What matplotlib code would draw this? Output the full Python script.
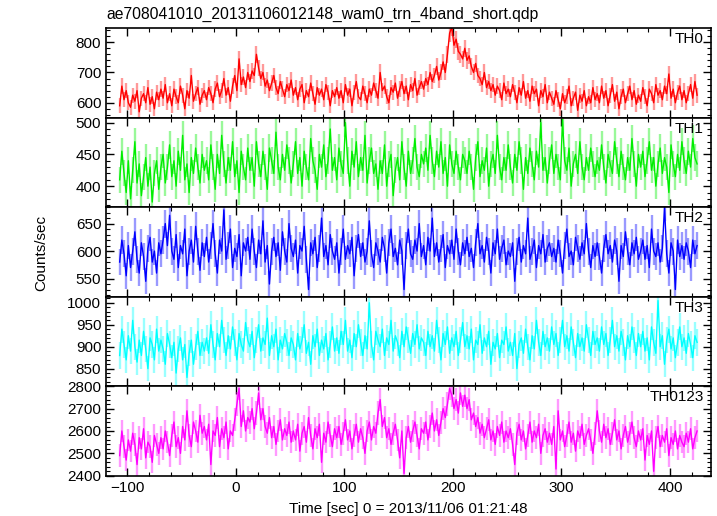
import numpy as np
import matplotlib
matplotlib.use("Agg")
import matplotlib.pyplot as plt
from matplotlib.ticker import MultipleLocator

plt.rcParams['font.family'] = ['Liberation Sans', 'DejaVu Sans']

title = "ae708041010_20131106012148_wam0_trn_4band_short.qdp"
xlabel = "Time [sec] 0 = 2013/11/06 01:21:48"
ylabel = "Counts/sec"
band_names = ["TH0", "TH1", "TH2", "TH3", "TH0123"]

t_start = -107.0   # centre of first bin [s]
bin_width = 2.0    # [s]

th0 = [
    590, 655, 610, 640, 600, 585, 625, 605, 640, 570, 615, 630, 600, 650, 595, 620, 580, 635, 610, 645,
    615, 660, 600, 630, 590, 645, 620, 600, 655, 625, 580, 640, 615, 690, 605, 630, 650, 595, 625, 640,
    610, 650, 630, 600, 645, 665, 620, 640, 680, 625, 650, 605, 655, 690, 640, 745, 660, 685, 650, 700,
    670, 705, 690, 760, 715, 680, 700, 655, 675, 640, 665, 690, 650, 630, 670, 645, 620, 660, 640, 675,
    625, 650, 610, 645, 660, 600, 640, 620, 665, 630, 595, 650, 625, 645, 610, 660, 635, 590, 640, 620,
    650, 615, 640, 600, 660, 625, 645, 590, 635, 670, 620, 610, 655, 630, 600, 645, 625, 665, 640, 615,
    700, 640, 655, 620, 600, 650, 635, 665, 615, 645, 670, 630, 655, 610, 660, 640, 680, 625, 650, 670,
    645, 680, 660, 700, 670, 690, 720, 675, 700, 735, 700, 760, 830, 850, 790, 810, 770, 760, 745, 780,
    740, 755, 720, 700, 730, 690, 680, 660, 700, 650, 670, 640, 660, 625, 655, 640, 610, 665, 630, 645,
    620, 660, 635, 600, 650, 625, 670, 615, 640, 605, 655, 630, 645, 590, 640, 620, 660, 600, 635, 615,
    595, 640, 610, 580, 630, 600, 620, 655, 590, 615, 635, 575, 625, 605, 640, 590, 620, 600, 650, 610,
    630, 600, 655, 615, 640, 590, 625, 660, 605, 635, 580, 620, 645, 600, 630, 655, 610, 640, 595, 625,
    605, 650, 620, 590, 645, 630, 600, 660, 625, 640, 610, 655, 630, 695, 615, 645, 600, 635, 655, 610,
    640, 600, 630, 660, 615, 670, 625,
]

th1 = [
    410, 455, 420, 390, 440, 380, 425, 470, 405, 435, 385, 415, 445, 400, 430, 375, 420, 440, 395, 430,
    450, 405, 430, 465, 415, 440, 400, 455, 425, 480, 410, 435, 390, 445, 420, 460, 430, 405, 450, 425,
    440, 410, 465, 430, 395, 450, 420, 480, 435, 405, 445, 425, 470, 415, 440, 390, 455, 430, 410, 460,
    425, 445, 400, 470, 435, 415, 455, 430, 395, 460, 440, 420, 485, 430, 410, 450, 425, 465, 440, 405,
    435, 470, 420, 445, 400, 455, 430, 410, 475, 440, 425, 395, 450, 430, 465, 415, 440, 490, 425, 445,
    410, 460, 435, 420, 500, 440, 400, 455, 430, 470, 415, 445, 425, 480, 405, 440, 460, 420, 435, 395,
    440, 420, 465, 400, 435, 450, 385, 425, 445, 410, 470, 430, 400, 455, 420, 440, 475, 430, 415, 450,
    435, 460, 425, 480, 440, 415, 455, 430, 470, 420, 445, 400, 465, 435, 420, 455, 430, 410, 450, 440,
    420, 455, 430, 395, 445, 470, 415, 440, 425, 460, 400, 435, 450, 420, 480, 430, 410, 445, 425, 465,
    430, 405, 450, 425, 470, 440, 395, 445, 420, 460, 435, 410, 455, 430, 500, 425, 445, 405, 440, 465,
    420, 450, 430, 410, 505, 440, 425, 460, 400, 435, 450, 420, 470, 430, 410, 445, 425, 460, 435, 415,
    440, 425, 465, 430, 405, 450, 435, 420, 470, 440, 415, 455, 430, 410, 445, 425, 475, 435, 400, 450,
    430, 455, 415, 440, 470, 425, 445, 400, 435, 460, 420, 445, 430, 390, 465, 435, 415, 450, 425, 470,
    440, 420, 455, 430, 475, 445, 435,
]

th2 = [
    580, 620, 595, 555, 610, 570, 600, 635, 585, 560, 615, 590, 545, 605, 625, 580, 600, 560, 615, 595,
    620, 650, 610, 665, 600, 585, 630, 570, 610, 595, 640, 555, 600, 620, 580, 645, 600, 565, 615, 590,
    625, 580, 610, 650, 595, 560, 620, 600, 675, 585, 610, 640, 570, 605, 590, 630, 555, 615, 600, 625,
    585, 640, 600, 570, 620, 595, 655, 580, 610, 540, 600, 625, 590, 615, 565, 635, 600, 580, 650, 605,
    590, 620, 560, 610, 600, 645, 585, 530, 615, 595, 625, 570, 605, 660, 590, 610, 575, 630, 600, 585,
    615, 560, 600, 640, 585, 610, 595, 625, 555, 605, 630, 590, 615, 580, 600, 655, 595, 570, 615, 600,
    580, 625, 605, 560, 615, 640, 590, 605, 575, 620, 600, 530, 610, 640, 595, 585, 620, 600, 650, 590,
    610, 575, 625, 600, 660, 590, 615, 580, 605, 630, 570, 610, 595, 620, 585, 640, 600, 575, 615, 595,
    625, 590, 605, 570, 615, 650, 595, 610, 580, 625, 600, 560, 615, 595, 640, 585, 605, 620, 575, 600,
    590, 615, 545, 600, 625, 580, 610, 595, 660, 585, 600, 620, 570, 610, 595, 630, 580, 605, 615, 590,
    605, 580, 620, 595, 560, 610, 640, 590, 600, 575, 625, 605, 585, 615, 595, 650, 600, 570, 610, 590,
    615, 590, 560, 605, 630, 595, 610, 580, 620, 600, 545, 610, 590, 635, 600, 575, 615, 595, 625, 585,
    600, 620, 585, 610, 570, 640, 600, 590, 615, 580, 605, 680, 595, 560, 615, 600, 530, 620, 590, 610,
    585, 615, 600, 570, 620, 595, 610,
]

th3 = [
    880, 940, 905, 870, 925, 890, 960, 900, 865, 915, 880, 935, 895, 850, 920, 905, 870, 940, 890, 915,
    895, 860, 930, 905, 875, 910, 840, 895, 920, 870, 905, 830, 885, 915, 860, 900, 935, 880, 910, 890,
    920, 885, 950, 905, 870, 930, 900, 960, 915, 880, 925, 895, 945, 910, 870, 930, 905, 890, 955, 915,
    900, 935, 875, 915, 950, 890, 920, 905, 965, 880, 925, 900, 940, 870, 915, 895, 930, 910, 880, 920,
    905, 870, 930, 895, 915, 950, 885, 910, 860, 925, 900, 940, 880, 915, 895, 930, 870, 905, 945, 890,
    920, 885, 935, 905, 960, 890, 915, 875, 930, 900, 950, 910, 880, 925, 895, 1000, 905, 870, 935, 915,
    900, 940, 880, 920, 905, 960, 890, 925, 910, 875, 935, 900, 945, 915, 885, 930, 905, 950, 895, 920,
    910, 880, 935, 900, 925, 890, 960, 915, 870, 930, 905, 945, 885, 920, 900, 935, 880, 915, 955, 900,
    925, 895, 940, 870, 915, 905, 950, 885, 920, 900, 935, 860, 910, 895, 930, 875, 915, 905, 945, 890,
    910, 880, 930, 850, 905, 920, 885, 940, 900, 870, 925, 895, 960, 910, 880, 935, 900, 920, 890, 945,
    905, 930, 880, 915, 960, 900, 925, 890, 945, 910, 875, 930, 900, 920, 890, 950, 915, 880, 935, 905,
    920, 890, 945, 905, 930, 880, 915, 960, 900, 925, 890, 935, 910, 870, 925, 900, 945, 915, 880, 930,
    900, 935, 890, 920, 870, 945, 910, 885, 1005, 900, 925, 860, 915, 940, 895, 920, 875, 910, 945, 900,
    920, 885, 930, 905, 875, 925, 910,
]

th0123 = [
    2490, 2600, 2530, 2470, 2560, 2510, 2590, 2540, 2450, 2570, 2520, 2610, 2480, 2550, 2530, 2460, 2580, 2540, 2500, 2570,
    2520, 2600, 2550, 2490, 2580, 2640, 2530, 2570, 2500, 2620, 2560, 2690, 2580, 2530, 2640, 2600, 2550, 2670, 2590, 2620,
    2560, 2630, 2450, 2600, 2580, 2660, 2530, 2610, 2570, 2640, 2520, 2600, 2580, 2650, 2720, 2790, 2620, 2690, 2600, 2660,
    2640, 2700, 2610, 2680, 2770, 2650, 2700, 2620, 2590, 2660, 2570, 2620, 2540, 2600, 2650, 2560, 2610, 2580, 2640, 2550,
    2600, 2560, 2630, 2510, 2590, 2620, 2550, 2660, 2580, 2520, 2610, 2570, 2630, 2460, 2590, 2550, 2640, 2580, 2530, 2610,
    2570, 2620, 2540, 2590, 2650, 2560, 2600, 2520, 2580, 2630, 2550, 2610, 2570, 2500, 2600, 2640, 2560, 2620, 2590, 2680,
    2740, 2620, 2660, 2570, 2610, 2540, 2590, 2630, 2560, 2480, 2600, 2410, 2570, 2620, 2550, 2600, 2640, 2580, 2520, 2610,
    2590, 2640, 2560, 2620, 2680, 2600, 2650, 2580, 2640, 2700, 2660, 2720, 2790, 2760, 2700, 2740, 2680, 2770, 2710, 2760,
    2700, 2740, 2650, 2680, 2620, 2660, 2590, 2630, 2570, 2610, 2650, 2560, 2600, 2540, 2620, 2580, 2640, 2550, 2600, 2570,
    2610, 2540, 2450, 2590, 2630, 2560, 2600, 2520, 2580, 2640, 2550, 2600, 2570, 2630, 2500, 2580, 2610, 2550, 2590, 2540,
    2620, 2430, 2690, 2560, 2600, 2530, 2580, 2640, 2550, 2590, 2510, 2600, 2570, 2630, 2540, 2580, 2610, 2560, 2500, 2590,
    2690, 2600, 2550, 2630, 2570, 2610, 2540, 2590, 2650, 2560, 2600, 2520, 2580, 2620, 2550, 2590, 2640, 2570, 2530, 2600,
    2560, 2610, 2470, 2580, 2540, 2600, 2420, 2570, 2620, 2530, 2580, 2550, 2610, 2490, 2570, 2540, 2600, 2520, 2580, 2550,
    2530, 2590, 2550, 2610, 2520, 2570, 2600,
]

series = [th0, th1, th2, th3, th0123]
colors = ["#ff0000", "#00ee00", "#0000ff", "#00ffff", "#ff00ff"]
ylims = [(551, 847), (367, 508), (517, 680), (810, 1014), (2400, 2800)]
ymajor = [100, 50, 50, 50, 100]
yminor = [20, 10, 10, 10, 20]

fig = plt.figure(figsize=(7.17, 5.16), dpi=100)
gs = fig.add_gridspec(5, 1, left=0.148, right=0.9916, top=0.9457, bottom=0.078, hspace=0)
axes = [fig.add_subplot(gs[i, 0]) for i in range(5)]

for i, ax in enumerate(axes):
    y = np.asarray(series[i], dtype=float)
    t = t_start + bin_width * np.arange(len(y))
    err = np.sqrt(y)  # Poisson error of 1-s rate
    ax.errorbar(t, y, yerr=err, fmt='none', ecolor=colors[i], alpha=0.4, elinewidth=1.7)
    ax.plot(t, y, color=colors[i], lw=1.0)
    ax.set_xlim(-119.5, 437.8)
    ax.set_ylim(*ylims[i])
    ax.xaxis.set_major_locator(MultipleLocator(100))
    ax.xaxis.set_minor_locator(MultipleLocator(20))
    ax.yaxis.set_major_locator(MultipleLocator(ymajor[i]))
    ax.yaxis.set_minor_locator(MultipleLocator(yminor[i]))
    ax.tick_params(which='both', direction='in', top=True, right=True, labelsize=11)
    ax.tick_params(which='major', length=6, width=1.0)
    ax.tick_params(which='minor', length=3, width=0.8)
    for sp in ax.spines.values():
        sp.set_linewidth(1.2)
    ax.text(0.988, 0.955, band_names[i], transform=ax.transAxes, ha='right', va='top', fontsize=11)
    if i < 4:
        ax.tick_params(labelbottom=False)

axes[-1].set_xlabel(xlabel, fontsize=11, labelpad=5)
fig.text(0.149, 0.972, title, ha='left', va='center', fontsize=11.3)
fig.text(0.058, 0.51, ylabel, rotation=90, ha='center', va='center', fontsize=11)

fig.savefig("out.png", dpi=100)
